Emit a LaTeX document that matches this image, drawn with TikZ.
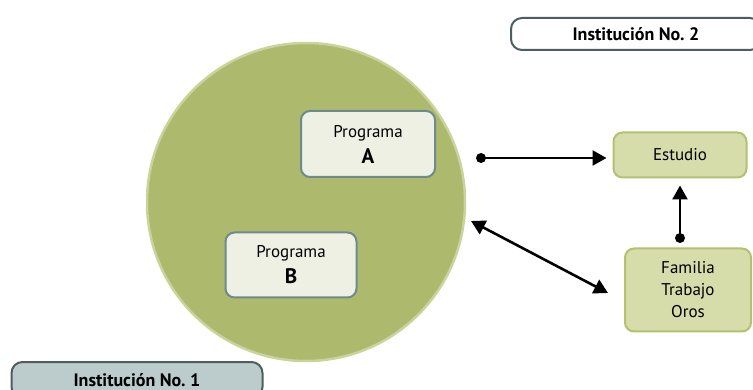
\documentclass[tikz,border=0pt]{standalone}
\usepackage{fontspec}
\setmainfont{PT Sans}
\usetikzlibrary{arrows.meta}
\definecolor{olivefill}{HTML}{ADB96C}
\definecolor{oliveedge}{HTML}{C9D39B}
\definecolor{progfill}{HTML}{EEF0E3}
\definecolor{progedge}{HTML}{6F8A8E}
\definecolor{boxfill}{HTML}{D6DCAA}
\definecolor{boxedge}{HTML}{B3C171}
\definecolor{instedge}{HTML}{4E5E60}
\definecolor{instfill}{HTML}{BCCBCB}
\frenchspacing
\tikzset{
    prog/.style={draw=progedge, fill=progfill, line width=2pt, rounded corners=9pt,
        align=center, inner sep=0pt, font=\fontsize{17}{22}\selectfont},
    green box/.style={draw=boxedge, fill=boxfill, line width=2pt, rounded corners=9pt,
        align=center, inner sep=0pt, font=\fontsize{17}{22}\selectfont},
    inst/.style={draw=instedge, line width=2pt, rounded corners=11pt, inner sep=0pt,
        font=\bfseries\fontsize{18}{20}\selectfont},
    conn/.style={line width=2.6pt, -{Triangle[length=14pt, width=15pt]}},
    dot/.style={circle, fill=black, inner sep=0pt, minimum size=10pt}
}
\begin{document}
\begin{tikzpicture}[x=1pt, y=-1pt]
    \useasboundingbox (0,0) rectangle (753,390);
    % main circle
    \node (inst1circle) [circle, draw=oliveedge, fill=olivefill, line width=2.5pt,
        minimum size=318pt] at (306,202) {};
    \node (progA) [prog, minimum width=134pt, minimum height=66pt] at (368,144)
        {Programa\\[4pt] {\bfseries\fontsize{21}{22}\selectfont A}};
    \node (progB) [prog, minimum width=131pt, minimum height=65pt] at (291,265)
        {Programa\\[4pt] {\bfseries\fontsize{21}{22}\selectfont B}};
    \node (estudio) [green box, minimum width=133pt, minimum height=45pt] at (680,155) {Estudio};
    \node (familia) [green box, minimum width=126pt, minimum height=83pt] at (688,290)
        {Familia\\Trabajo\\Oros};
    \node (inst2) [inst, fill=white, minimum width=250pt, minimum height=32pt] at (636,34)
        {Institución No. 2};
    \node (inst1) [inst, fill=instfill, minimum width=251pt, minimum height=36pt] at (137,380)
        {Institución No. 1};
    % connectors
    \coordinate (startA) at (481,158);
    \coordinate (startF) at (680,238);
    \coordinate (circleE) at (471,221);
    \coordinate (famW) at (608,293);
    \node (dotA) [dot] at (startA) {};
    \node (dotF) [dot] at (startF) {};
    \draw [conn, shorten >=6pt] (dotA.center) -- (dotA.center -| estudio.west);
    \draw [conn, shorten >=7pt] (dotF.center) -- (dotF.center |- estudio.south);
    \draw [line width=2.6pt, {Triangle[length=14pt, width=15pt]}-{Triangle[length=14pt, width=15pt]}]
        (circleE) -- (famW);
\end{tikzpicture}
\end{document}
